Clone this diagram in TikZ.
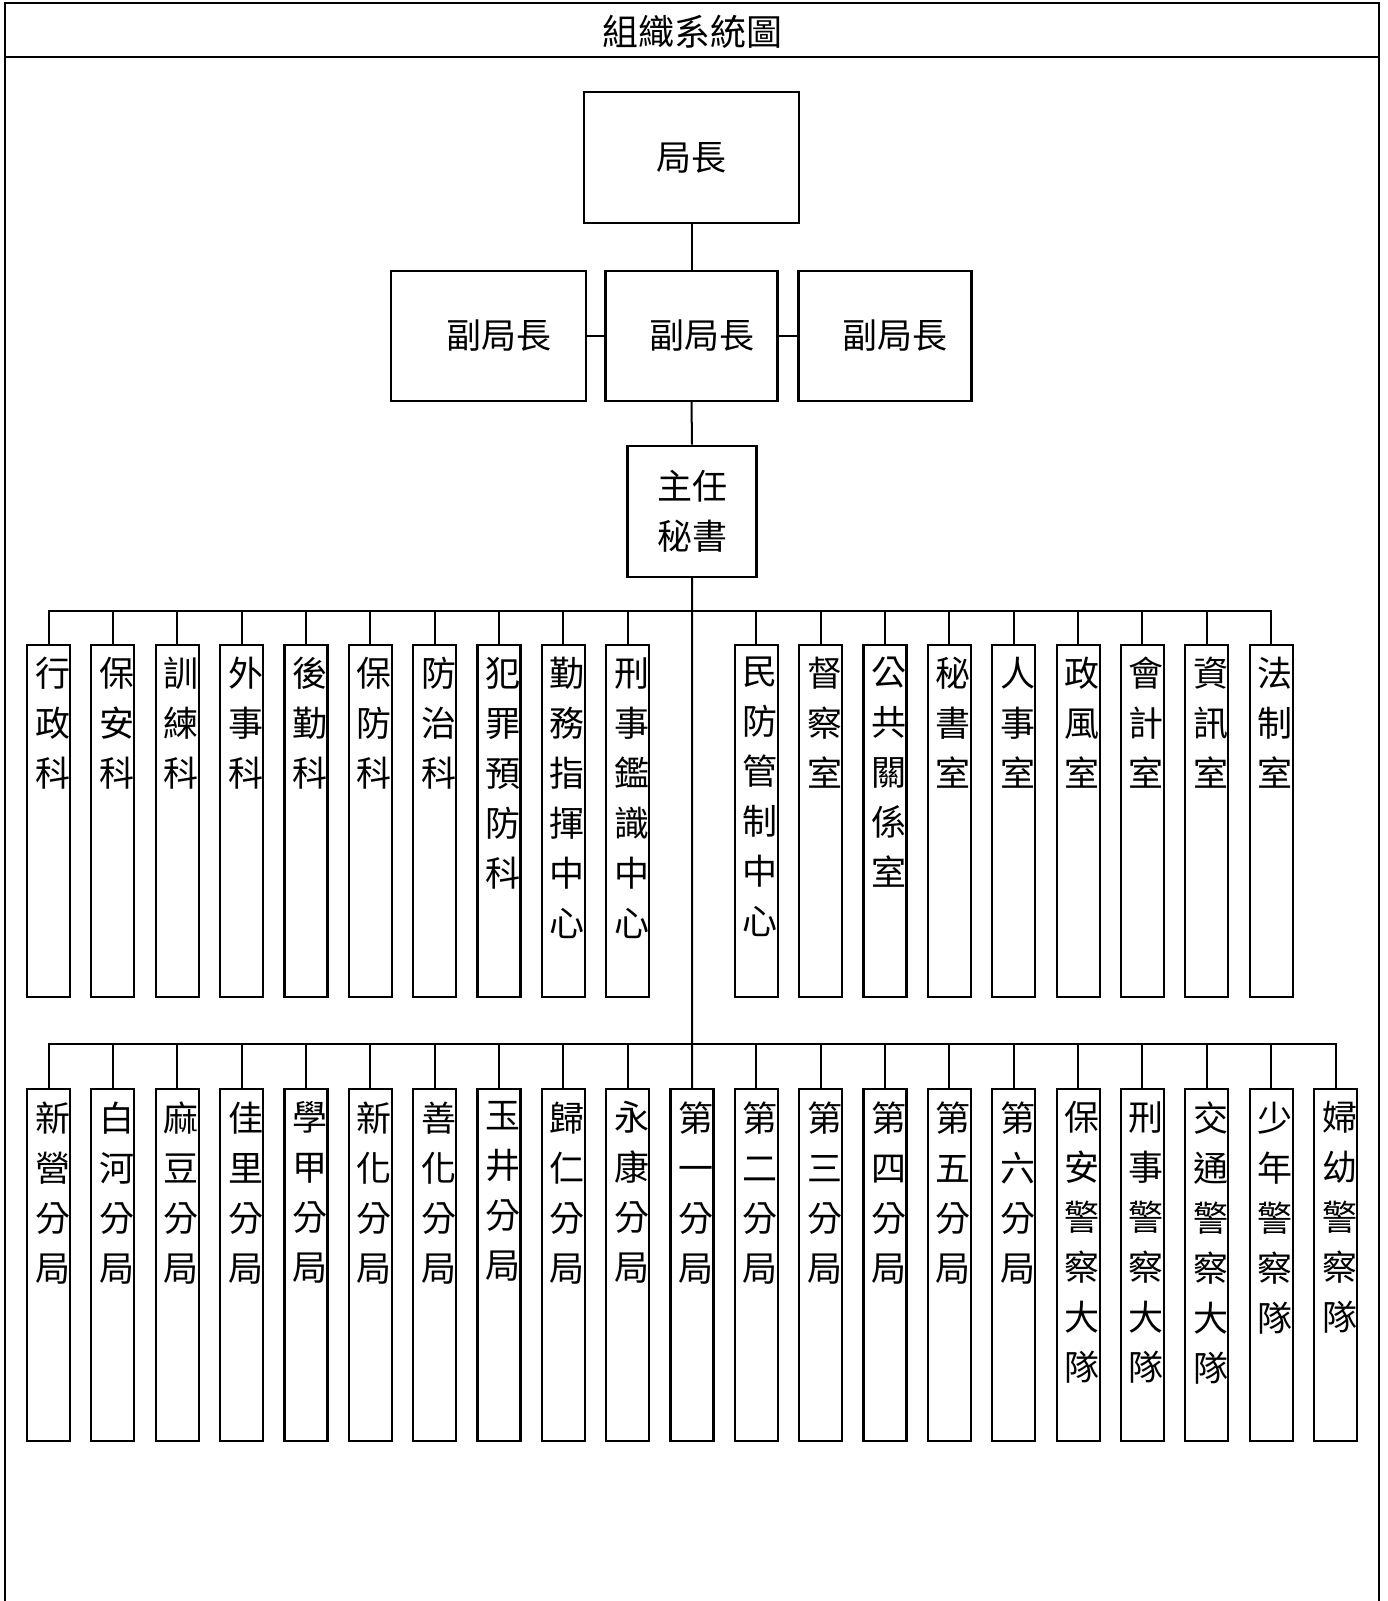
\documentclass[tikz,border=0pt]{standalone}
\usepackage{fontspec}
\setmainfont{Noto Sans CJK TC}
\usetikzlibrary{positioning}

\tikzset{
  box/.style={draw, line width=1.1pt, inner sep=0pt, font=\fontsize{17.5}{25}\selectfont},
  col/.style={box, minimum width=21.5pt, minimum height=176pt},
  vtxt/.style={align=center, inner sep=0pt, xshift=2pt, font=\fontsize{17.5}{25}\selectfont},
  link/.style={line width=1pt},
}

\begin{document}
\begin{tikzpicture}[x=0.5pt,y=-0.5pt]
\useasboundingbox (0,0) rectangle (1387,1601);
\fill[white] (0,0) rectangle (1387,1601);
% frame and title
\draw[line width=1.1pt] (5,1601) -- (5,3) -- (1379,3) -- (1379,1601);
\draw[line width=1.1pt] (5,57) -- (1379,57);
\node[font=\fontsize{18}{22}\selectfont] (title) at (692,32) {組織系統圖};

% top levels
\node[box, minimum width=107.5pt, minimum height=65.5pt] (boss) at (691.5,157.5) {局長};
\node[box, minimum width=97.5pt, minimum height=65pt] (deputyL) at (488.5,335.7) {\hspace*{10pt}副局長};
\node[box, minimum width=86pt, minimum height=65pt] (deputyM) at (691.5,335.7) {\hspace*{10pt}副局長};
\node[box, minimum width=86.5pt, minimum height=65pt] (deputyR) at (885,335.7) {\hspace*{10pt}副局長};
\node[box, align=center, minimum width=64.5pt, minimum height=65.5pt] (secretary) at (692,511.2) {主任\\秘書};

\draw[link] (boss.south) -- (deputyM.north);
\draw[link] (deputyL.east) -- (deputyM.west);
\draw[link] (deputyM.east) -- (deputyR.west);
\draw[link] (deputyM.south) -- (secretary.north);

\coordinate (busA) at (691.5,611);
\coordinate (busB) at (691.5,1043.5);

% sections and offices
\foreach \i/\t in {0/{行\\政\\科},1/{保\\安\\科},2/{訓\\練\\科},3/{外\\事\\科},
    4/{後\\勤\\科},5/{保\\防\\科},6/{防\\治\\科},7/{犯\\罪\\預\\防\\科},
    8/{勤\\務\\指\\揮\\中\\心},9/{刑\\事\\鑑\\識\\中\\心},
    11/{民\\防\\管\\制\\中\\心},12/{督\\察\\室},13/{公\\共\\關\\係\\室},
    14/{秘\\書\\室},15/{人\\事\\室},16/{政\\風\\室},17/{會\\計\\室},
    18/{資\\訊\\室},19/{法\\制\\室}}{
  \node[col] (u\i) at (48.5+64.35*\i,821) {};
  \node[vtxt, below=6.5pt of u\i.north] (ut\i) {\t};
  \draw[link] (u\i.north) |- (busA);
}

% precincts and brigades
\foreach \i/\t in {0/{新\\營\\分\\局},1/{白\\河\\分\\局},2/{麻\\豆\\分\\局},
    3/{佳\\里\\分\\局},4/{學\\甲\\分\\局},5/{新\\化\\分\\局},6/{善\\化\\分\\局},
    7/{玉\\井\\分\\局},8/{歸\\仁\\分\\局},9/{永\\康\\分\\局},10/{第\\一\\分\\局},
    11/{第\\二\\分\\局},12/{第\\三\\分\\局},13/{第\\四\\分\\局},
    14/{第\\五\\分\\局},15/{第\\六\\分\\局},16/{保\\安\\警\\察\\大\\隊},
    17/{刑\\事\\警\\察\\大\\隊},18/{交\\通\\警\\察\\大\\隊},
    19/{少\\年\\警\\察\\隊},20/{婦\\幼\\警\\察\\隊}}{
  \node[col] (b\i) at (48.5+64.35*\i,1265.3) {};
  \node[vtxt, below=6.5pt of b\i.north] (bt\i) {\t};
  \draw[link] (b\i.north) |- (busB);
}

\draw[link] (secretary.south) -- (b10.north);
\end{tikzpicture}
\end{document}
